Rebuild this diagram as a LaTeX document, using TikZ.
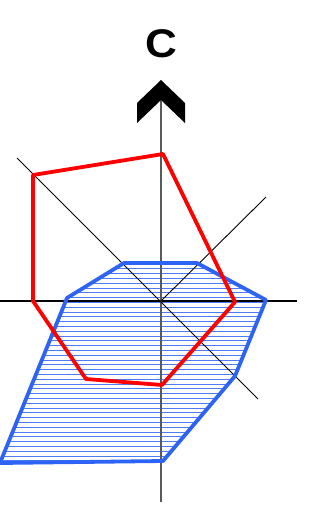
\documentclass[tikz,border=0pt]{standalone}
\usepackage{fontspec}
\setmainfont{Liberation Sans}
\usepackage{xcolor}
\usetikzlibrary{positioning,arrows.meta,calc}

\definecolor{blueline}{RGB}{45,100,245}
\definecolor{axisgray}{RGB}{90,90,90}

\begin{document}
\begin{tikzpicture}[x=1pt,y=-1pt,
  axis/.style={draw=black, line width=1.3pt},
  zaxis/.style={draw=axisgray, line width=2pt},
  diag/.style={draw=black, line width=0.9pt},
  hatch/.style={draw=blueline!85, line width=1pt},
  redpoly/.style={draw=red, line width=3.8pt, line join=round},
  bluepoly/.style={draw=blueline, line width=3.8pt, line join=round}]

  \useasboundingbox (0,0) rectangle (322,515);

  % axes and diagonals
  \coordinate (o)  at (161,301);
  \coordinate (xl) at (0,301);
  \coordinate (xr) at (297,301);
  \coordinate (zt) at (161,100);
  \coordinate (zb) at (161,502);
  \coordinate (d1) at (17,158);
  \coordinate (d2) at (258,399);
  \coordinate (d3) at (266,197);

  % blue region
  \coordinate (b1) at (124,263);
  \coordinate (b2) at (197,263);
  \coordinate (b3) at (266,300);
  \coordinate (b4) at (235,376);
  \coordinate (b5) at (163,461);
  \coordinate (b6) at (0,463);
  \coordinate (b7) at (67,298);

  % red polygon
  \coordinate (r1) at (163,154);
  \coordinate (r2) at (33,175);
  \coordinate (r3) at (33,301);
  \coordinate (r4) at (86,379);
  \coordinate (r5) at (162,385);
  \coordinate (r6) at (235,302);

  % hatching
  \begin{scope}
    \clip (b1) -- (b2) -- (b3) -- (b4) -- (b5) -- (b6) -- (b7) -- cycle;
    \foreach \y in {264,268.8,...,466}
      \draw[hatch] (0,\y) -- (300,\y);
  \end{scope}

  \draw[axis] (xl) -- (xr);
  \draw[zaxis] (zb) -- (zt);
  \draw[diag] (d1) -- (d2);
  \draw[diag] (o) -- (d3);

  \draw[bluepoly] (b1) -- (b2) -- (b3) -- (b4) -- (b5) -- (b6) -- (b7) -- cycle;
  \draw[redpoly] (r1) -- (r2) -- (r3) -- (r4) -- (r5) -- (r6) -- cycle;

  % arrow head and label
  \fill[black] (161,80) -- (185,103) -- (185,123) -- (zt) -- (137,123) -- (137,103) -- cycle;
  \node[font=\fontsize{40}{40}\selectfont\bfseries, inner sep=0pt, xscale=1.1] (clbl) at (161,44) {C};
\end{tikzpicture}
\end{document}
